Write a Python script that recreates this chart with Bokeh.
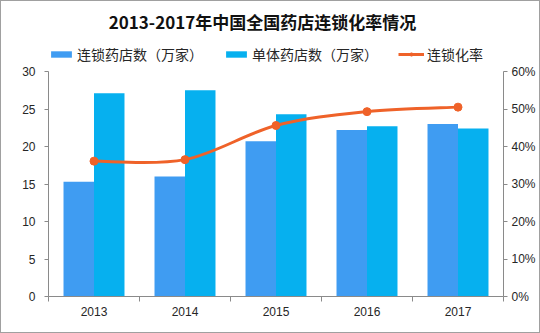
from bokeh.plotting import figure
from bokeh.layouts import column
from bokeh.models import (Range1d, LinearAxis, FixedTicker, PrintfTickFormatter,
                          Legend, LegendItem, Label)
from bokeh.embed import file_html
from bokeh.resources import INLINE

# ---- data ----
years = ["2013", "2014", "2015", "2016", "2017"]
chain_stores = [15.3, 16.0, 20.7, 22.2, 23.0]      # 连锁药店数（万家）
single_stores = [27.1, 27.5, 24.3, 22.7, 22.4]     # 单体药店数（万家）
chain_rate = [36.1, 36.5, 45.6, 49.3, 50.5]        # 连锁化率 (%)
left_ticks = [0, 5, 10, 15, 20, 25, 30]
right_ticks = [0, 10, 20, 30, 40, 50, 60]

title_text = "2013-2017年中国全国药店连锁化率情况"
names = ["连锁药店数（万家）", "单体药店数（万家）", "连锁化率"]

C_BLUE = "#3F9CF2"
C_CYAN = "#06B0EF"
C_ORANGE = "#EF6229"
AXIS_C = "#8A8A8A"
TXT_C = "#262626"
CJK = "Noto Sans CJK SC"

n = len(years)
idx = list(range(n))
bw = 0.335
W, H = 538, 331          # inside a 1px border -> 540 x 333
ML, MR = 47, 36          # left / right borders (frames are aligned in the column)

# ---------- header: title + legend ----------
TOP_H = 63
head = figure(width=W, height=TOP_H, output_backend="svg", toolbar_location=None,
              x_range=Range1d(ML, W - MR), y_range=Range1d(TOP_H, 0),
              x_axis_type=None, y_axis_type=None, min_border=0,
              min_border_left=ML, min_border_right=MR,
              background_fill_color="white", border_fill_color="white")
head.outline_line_color = None
head.grid.visible = False
head.add_layout(Label(x=261, y=20, text=title_text, text_align="center",
                      text_baseline="middle", text_font=CJK, text_font_size="17px",
                      text_font_style="bold", text_color="#111111"))
# legend swatch renderers: same data, mapped to an off-screen range (not visible here)
head.extra_y_ranges = {"off": Range1d(1000, 1100)}
head.extra_x_ranges = {"off": Range1d(1000, 1100)}
h1 = head.vbar(x=idx, top=chain_stores, width=bw, color=C_BLUE, line_color=None,
               x_range_name="off", y_range_name="off")
h2 = head.vbar(x=idx, top=single_stores, width=bw, color=C_CYAN, line_color=None,
               x_range_name="off", y_range_name="off")
h3l = head.line(x=idx, y=chain_rate, line_color=C_ORANGE, line_width=3,
                x_range_name="off", y_range_name="off")
h3 = head.scatter(x=idx, y=chain_rate, size=8, color=C_ORANGE,
                  x_range_name="off", y_range_name="off")
legend = Legend(items=[LegendItem(label=names[0], renderers=[h1]),
                       LegendItem(label=names[1], renderers=[h2]),
                       LegendItem(label=names[2], renderers=[h3l, h3])],
                orientation="horizontal", location=(0, 0), padding=0, margin=0,
                spacing=20, label_standoff=3, glyph_width=26, glyph_height=8,
                label_text_font=CJK, label_text_font_size="14px",
                label_text_color=TXT_C, border_line_color=None,
                background_fill_alpha=0)
head.add_layout(legend, "center")

# ---------- main chart ----------
p = figure(width=W, height=H - TOP_H, output_backend="svg", toolbar_location=None,
           x_range=Range1d(-0.5, n - 0.5), y_range=Range1d(0, 30),
           min_border_left=ML, min_border_right=MR, min_border_top=7,
           min_border_bottom=36, background_fill_color="white",
           border_fill_color="white")
p.outline_line_color = None
p.grid.visible = False
p.extra_y_ranges = {"pct": Range1d(0, 60)}

p.vbar(x=[i - bw / 2 for i in idx], top=chain_stores, width=bw,
       color=C_BLUE, line_color=None)
p.vbar(x=[i + bw / 2 for i in idx], top=single_stores, width=bw,
       color=C_CYAN, line_color=None)

# smoothed line (Catmull-Rom style bezier segments through the data points)
pts = list(zip(idx, chain_rate))
x0, y0, x1, y1, cx0, cy0, cx1, cy1 = [], [], [], [], [], [], [], []
for i in range(n - 1):
    pa = pts[i - 1] if i > 0 else pts[i]
    pb = pts[i]
    pc = pts[i + 1]
    pd = pts[i + 2] if i + 2 < n else pts[i + 1]
    x0.append(pb[0]); y0.append(pb[1]); x1.append(pc[0]); y1.append(pc[1])
    cx0.append(pb[0] + (pc[0] - pa[0]) / 6); cy0.append(pb[1] + (pc[1] - pa[1]) / 6)
    cx1.append(pc[0] - (pd[0] - pb[0]) / 6); cy1.append(pc[1] - (pd[1] - pb[1]) / 6)
p.bezier(x0=x0, y0=y0, x1=x1, y1=y1, cx0=cx0, cy0=cy0, cx1=cx1, cy1=cy1,
         line_color=C_ORANGE, line_width=3, y_range_name="pct")
p.scatter(idx, chain_rate, size=8, color=C_ORANGE, y_range_name="pct")

# axes
p.xaxis.ticker = FixedTicker(ticks=idx, minor_ticks=[i - 0.5 for i in range(n + 1)])
p.xaxis.major_label_overrides = {i: years[i] for i in idx}
p.xaxis.major_tick_out = 0
p.xaxis.major_tick_in = 0
p.xaxis.minor_tick_out = 5
p.xaxis.minor_tick_in = 0
p.xaxis.major_label_standoff = 5

p.yaxis.ticker = FixedTicker(ticks=left_ticks, minor_ticks=[])
p.yaxis.major_tick_out = 4
p.yaxis.major_tick_in = 0
p.yaxis.major_label_standoff = 9

ra = LinearAxis(y_range_name="pct", ticker=FixedTicker(ticks=right_ticks, minor_ticks=[]),
                formatter=PrintfTickFormatter(format="%d%%"))
ra.major_tick_out = 4
ra.major_tick_in = 0
ra.major_label_standoff = 4
p.add_layout(ra, "right")

for ax in p.axis:
    ax.axis_line_color = AXIS_C
    ax.major_tick_line_color = AXIS_C
    ax.minor_tick_line_color = AXIS_C
    ax.major_label_text_font = "Liberation Sans"
    ax.major_label_text_font_size = "12px"
    ax.major_label_text_color = TXT_C

layout = column(head, p, spacing=0, styles={"border": "1px solid #A0A0A0"})
open("out.html", "w").write(file_html(layout, INLINE))
